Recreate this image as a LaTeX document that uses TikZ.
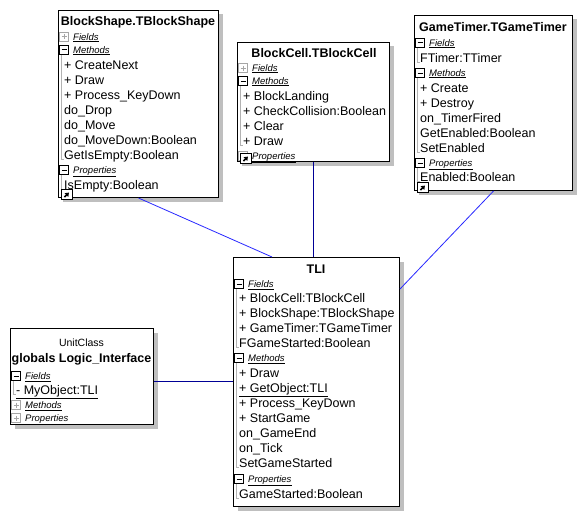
\documentclass[tikz,border=0pt]{standalone}
\usepackage{fontspec}
\setmainfont{Liberation Sans}
\usetikzlibrary{shadows,arrows.meta}
\tikzset{
  cls/.style={draw=black, line width=1pt, fill=white, inner sep=0pt, anchor=north west,
    drop shadow={shadow xshift=4pt, shadow yshift=-4pt, fill=black!25, opacity=1}},
  ttl/.style={font=\fontsize{12.5}{15}\selectfont\bfseries, inner sep=0pt, anchor=center},
  sub/.style={font=\fontsize{10.5}{12}\selectfont, inner sep=0pt, anchor=center},
  itm/.style={font=\fontsize{12.5}{15}\selectfont, inner sep=0pt, anchor=base west},
  hdr/.style={font=\fontsize{9.5}{10}\selectfont\itshape, inner sep=0pt, anchor=base west},
  tree/.style={draw=black!30, line width=0.8pt},
  icn/.style={draw=black, line width=0.8pt, fill=white, minimum width=11pt, minimum height=10pt, inner sep=0pt, anchor=south west},
  assoc/.style={draw={rgb,255:red,40;green,40;blue,255}, line width=0.8pt},
  dassoc/.style={draw={rgb,255:red,0;green,0;blue,150}, line width=0.8pt},
}
\newcommand\cbox[5]{\node[cls, minimum width={(#4-#2)*1pt}, minimum height={(#5-#3)*1pt}] (#1) at (#2,#3) {};}
\newcommand\citem[4]{\node[itm] (#1) at (#2+6,#3+4.5) {#4};}
\newcommand\ctree[3]{\draw[tree] (#1+3,#2) -- (#1+3,#3) -- (#1+6,#3);}
\newcommand\chead[5]{%
  \ifnum#5=1 \def\hc{black}\else\def\hc{black!35}\fi
  \draw[draw=\hc, line width=0.8pt, fill=white] (#2+1.5,#3-4.5) rectangle (#2+10.5,#3+4.5);
  \draw[draw=\hc, line width=1pt] (#2+3.5,#3) -- (#2+8.5,#3);
  \ifnum#5=0 \draw[draw=\hc, line width=0.8pt] (#2+6,#3-2.5) -- (#2+6,#3+2.5);\fi
  \node[hdr] (#1) at (#2+15,#3+3.2) {\underline{#4}};}
\newcommand\cicon[3]{%
  \node[icn] (#1) at (#2+3,#3+3) {};
  \draw[line width=1.6pt,-{Triangle[length=3.5pt,width=5pt]}] ([shift={(-2.5pt,-2.5pt)}]#1.center) -- ([shift={(2pt,2pt)}]#1.center);}
\begin{document}
\begin{tikzpicture}[x=1pt,y=-1pt]
\fill[white] (0,0) rectangle (583,519);
\useasboundingbox (0,0) rectangle (583,519);

% BlockShape
\cbox{bs}{58}{10}{218}{197}
\node[ttl] (bst) at (138,22) {BlockShape.TBlockShape};
\chead{bsf}{58}{37}{Fields}{0}
\chead{bsm}{58}{50}{Methods}{1}
\ctree{58}{55}{159}
\citem{bs1}{58}{65}{+ CreateNext}
\citem{bs2}{58}{80}{+ Draw}
\citem{bs3}{58}{95}{+ Process\_KeyDown}
\citem{bs4}{58}{110}{do\_Drop}
\citem{bs5}{58}{125}{do\_Move}
\citem{bs6}{58}{140}{do\_MoveDown:Boolean}
\citem{bs7}{58}{155}{GetIsEmpty:Boolean}
\chead{bsp}{58}{170}{Properties}{1}
\ctree{58}{175}{189}
\citem{bs8}{58}{185}{IsEmpty:Boolean}
\cicon{bsi}{58}{197}

% BlockCell
\cbox{bc}{237}{42}{389}{161}
\node[ttl] (bct) at (314,53) {BlockCell.TBlockCell};
\chead{bcf}{237}{68}{Fields}{0}
\chead{bcm}{237}{81}{Methods}{1}
\ctree{237}{86}{145}
\citem{bc1}{237}{96}{+ BlockLanding}
\citem{bc2}{237}{111}{+ CheckCollision:Boolean}
\citem{bc3}{237}{126}{+ Clear}
\citem{bc4}{237}{141}{+ Draw}
\chead{bcp}{237}{156}{Properties}{0}
\cicon{bci}{237}{161}

% GameTimer
\cbox{gt}{414}{15}{572}{190}
\node[ttl] (gtt) at (493,27) {GameTimer.TGameTimer};
\chead{gtf}{414}{43}{Fields}{1}
\ctree{414}{48}{62}
\citem{gt1}{414}{58}{FTimer:TTimer}
\chead{gtm}{414}{73}{Methods}{1}
\ctree{414}{78}{152}
\citem{gt2}{414}{88}{+ Create}
\citem{gt3}{414}{103}{+ Destroy}
\citem{gt4}{414}{118}{on\_TimerFired}
\citem{gt5}{414}{133}{GetEnabled:Boolean}
\citem{gt6}{414}{148}{SetEnabled}
\chead{gtp}{414}{163}{Properties}{1}
\ctree{414}{168}{181}
\citem{gt7}{414}{177}{Enabled:Boolean}
\cicon{gti}{414}{190}

% TLI
\cbox{tli}{233}{257}{399}{506}
\node[ttl] (tlit) at (316,269) {TLI};
\chead{tlif}{233}{284}{Fields}{1}
\ctree{233}{289}{347}
\citem{tl1}{233}{298}{+ BlockCell:TBlockCell}
\citem{tl2}{233}{313}{+ BlockShape:TBlockShape}
\citem{tl3}{233}{328}{+ GameTimer:TGameTimer}
\citem{tl4}{233}{343}{FGameStarted:Boolean}
\chead{tlim}{233}{358}{Methods}{1}
\ctree{233}{363}{467}
\citem{tl5}{233}{373}{+ Draw}
\citem{tl6}{233}{388}{\underline{+ GetObject:TLI}}
\citem{tl7}{233}{403}{+ Process\_KeyDown}
\citem{tl8}{233}{418}{+ StartGame}
\citem{tl9}{233}{433}{on\_GameEnd}
\citem{tl10}{233}{448}{on\_Tick}
\citem{tl11}{233}{463}{SetGameStarted}
\chead{tlip}{233}{479}{Properties}{1}
\ctree{233}{484}{498}
\citem{tl12}{233}{494}{GameStarted:Boolean}

% Logic_Interface
\cbox{li}{10}{328}{153}{424}
\node[sub] (lis) at (81.5,343) {UnitClass};
\node[ttl] (lit) at (81.5,359) {globals Logic\_Interface};
\chead{lif}{10}{376}{Fields}{1}
\ctree{10}{381}{394}
\citem{li1}{10}{390}{\underline{- MyObject:TLI}}
\chead{lim}{10}{405}{Methods}{0}
\chead{lip}{10}{418}{Properties}{0}

% connectors
\draw[assoc] (bs.south) -- ([xshift=39pt]tli.north west);
\draw[dassoc] (bc.south) -- (bc.south |- tli.north);
\draw[assoc] (gt.south) -- ([yshift=-32pt]tli.north east);
\draw[dassoc] ([yshift=-5pt]li.east) -- ([yshift=-5pt]li.east -| tli.west);
\end{tikzpicture}
\end{document}
